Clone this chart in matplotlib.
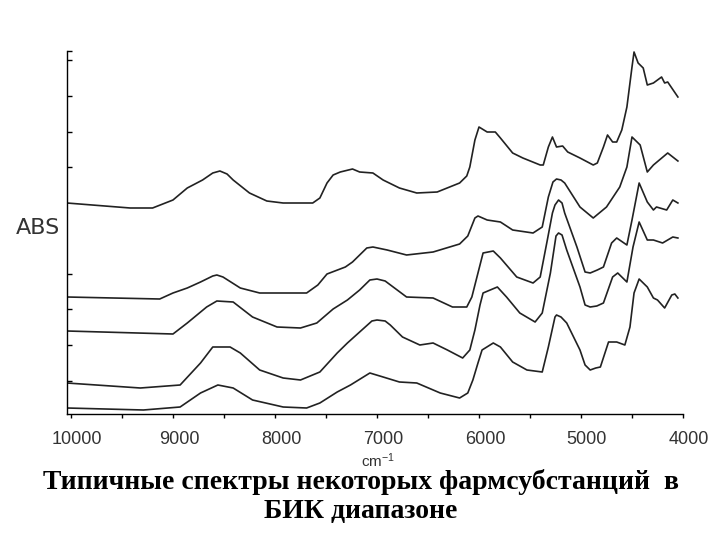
import numpy as np
import matplotlib
matplotlib.use("Agg")
import matplotlib.pyplot as plt
import matplotlib.transforms as mtransforms

# спектры, волновое число (см-1) и поглощение (усл. ед.), сверху вниз
wn1 = [10040, 9420, 9200, 9000, 8860, 8710, 8610, 8540, 8470, 8410, 8250, 8080, 7920, 7630, 7560,
       7490, 7430, 7360, 7240, 7170, 7040, 6940, 6780, 6610, 6410, 6190, 6120, 6090, 6040, 6000,
       5920, 5840, 5790, 5670, 5570, 5400, 5370, 5320, 5280, 5240, 5180, 5130, 5010, 4880, 4840,
       4780, 4740, 4690, 4650, 4600, 4550, 4500, 4480, 4440, 4390, 4350, 4290, 4210, 4180, 4150, 4050]
abs1 = [2.11, 2.06, 2.06, 2.14, 2.26, 2.34, 2.41, 2.43, 2.40, 2.34, 2.21, 2.13, 2.11, 2.11, 2.16,
        2.31, 2.39, 2.42, 2.45, 2.42, 2.41, 2.34, 2.26, 2.21, 2.22, 2.31, 2.38, 2.47, 2.74, 2.87,
        2.82, 2.82, 2.76, 2.61, 2.56, 2.49, 2.49, 2.67, 2.77, 2.67, 2.68, 2.62, 2.56, 2.49, 2.51,
        2.67, 2.79, 2.72, 2.72, 2.84, 3.07, 3.47, 3.62, 3.51, 3.46, 3.29, 3.31, 3.37, 3.31, 3.32, 3.17]

wn2 = [10040, 9130, 9000, 8860, 8730, 8610, 8570, 8510, 8340, 8150, 7690, 7580, 7490, 7310, 7240,
       7100, 7040, 6900, 6710, 6450, 6190, 6110, 6040, 6010, 5920, 5790, 5670, 5470, 5380, 5320,
       5275, 5240, 5196, 5160, 5010, 4880, 4750, 4620, 4550, 4500, 4470, 4420, 4350, 4290, 4150, 4050]
abs2 = [1.17, 1.15, 1.21, 1.26, 1.32, 1.38, 1.39, 1.37, 1.26, 1.21, 1.21, 1.29, 1.40, 1.47, 1.52,
        1.66, 1.67, 1.64, 1.59, 1.62, 1.70, 1.78, 1.96, 1.98, 1.94, 1.92, 1.84, 1.81, 1.87, 2.17,
        2.32, 2.35, 2.34, 2.31, 2.07, 1.96, 2.07, 2.27, 2.47, 2.77, 2.74, 2.69, 2.42, 2.49, 2.61, 2.53]

wn3 = [10040, 9000, 8860, 8670, 8570, 8410, 8220, 7980, 7750, 7590, 7430, 7290, 7170, 7070, 7000,
       6920, 6710, 6450, 6260, 6120, 6070, 6010, 5960, 5860, 5790, 5630, 5470, 5400, 5330, 5280,
       5255, 5220, 5186, 5160, 5040, 4960, 4910, 4840, 4780, 4700, 4650, 4550, 4500, 4430, 4350,
       4290, 4260, 4160, 4100, 4050]
abs3 = [0.83, 0.80, 0.91, 1.07, 1.13, 1.12, 0.97, 0.87, 0.86, 0.91, 1.05, 1.14, 1.24, 1.34, 1.35,
        1.33, 1.17, 1.16, 1.07, 1.07, 1.17, 1.41, 1.61, 1.63, 1.56, 1.37, 1.31, 1.37, 1.74, 2.01,
        2.09, 2.14, 2.11, 2.01, 1.67, 1.42, 1.41, 1.44, 1.47, 1.71, 1.76, 1.69, 1.94, 2.31, 2.12,
        2.04, 2.07, 2.04, 2.14, 2.11]

wn4 = [10040, 9320, 8930, 8730, 8610, 8440, 8340, 8150, 7920, 7750, 7560, 7390, 7290, 7170, 7050,
       7000, 6920, 6870, 6750, 6580, 6450, 6310, 6160, 6090, 6040, 5990, 5960, 5820, 5730, 5600,
       5450, 5380, 5300, 5245, 5220, 5186, 5140, 5010, 4960, 4910, 4845, 4780, 4690, 4640, 4550,
       4490, 4430, 4350, 4290, 4200, 4100, 4050]
abs4 = [0.31, 0.26, 0.29, 0.51, 0.67, 0.67, 0.61, 0.44, 0.36, 0.34, 0.42, 0.61, 0.71, 0.82, 0.93,
        0.94, 0.93, 0.89, 0.77, 0.69, 0.71, 0.64, 0.56, 0.64, 0.84, 1.09, 1.21, 1.27, 1.17, 1.01,
        0.92, 1.01, 1.41, 1.78, 1.81, 1.79, 1.64, 1.27, 1.09, 1.07, 1.08, 1.11, 1.37, 1.41, 1.32,
        1.67, 1.92, 1.74, 1.74, 1.71, 1.77, 1.76]

wn5 = [10040, 9290, 8930, 8730, 8560, 8410, 8220, 7920, 7690, 7560, 7390, 7260, 7070, 6940, 6780,
       6610, 6380, 6190, 6110, 6060, 6010, 5970, 5860, 5790, 5670, 5530, 5380, 5320, 5255, 5240,
       5196, 5140, 5010, 4960, 4910, 4855, 4810, 4730, 4650, 4570, 4520, 4480, 4430, 4350, 4290,
       4250, 4180, 4110, 4080, 4050]
abs5 = [0.06, 0.04, 0.07, 0.21, 0.29, 0.26, 0.14, 0.07, 0.06, 0.11, 0.22, 0.29, 0.41, 0.37, 0.32,
        0.31, 0.21, 0.16, 0.21, 0.34, 0.51, 0.64, 0.71, 0.67, 0.52, 0.44, 0.42, 0.67, 0.97, 0.99,
        0.97, 0.91, 0.64, 0.49, 0.44, 0.46, 0.47, 0.72, 0.72, 0.69, 0.87, 1.21, 1.35, 1.27, 1.16,
        1.14, 1.06, 1.19, 1.20, 1.16]

x_ticks = [10000, 9500, 9000, 8500, 8000, 7500, 7000, 6500, 6000, 5500, 5000, 4500, 4000]
x_labels = ['10000', '', '9000', '', '8000', '', '7000', '', '6000', '', '5000', '', '4000']
y_ticks = [0.33, 0.69, 1.05, 1.40, 2.47, 2.82, 3.18, 3.54, 3.63]

plt.rcParams['mathtext.default'] = 'regular'

fig = plt.figure(figsize=(7.2, 5.4), dpi=100)
ax = fig.add_axes([67/720, 126/540, 616/720, 363/540])

for wn, a in [(wn1, abs1), (wn2, abs2), (wn3, abs3), (wn4, abs4), (wn5, abs5)]:
    ax.plot(wn, a, color='#222222', lw=1.2, solid_joinstyle='round')

ax.set_xlim(10039, 4000)
ax.set_ylim(0, 3.63)

ax.spines['top'].set_visible(False)
ax.spines['right'].set_visible(False)
ax.spines['left'].set_linewidth(1.0)
ax.spines['bottom'].set_linewidth(1.0)

ax.set_xticks(x_ticks)
ax.set_xticklabels(x_labels, fontfamily='Liberation Sans', fontsize=13, color='#333333')
ax.tick_params(axis='x', direction='out', length=3, width=1.0, pad=9)
ax.set_yticks(y_ticks)
ax.set_yticklabels([])
ax.tick_params(axis='y', direction='in', length=3.6, width=1.0)

# подписи делений чуть сдвинуты вправо, как на оригинале
offset = mtransforms.ScaledTranslation(0.06, 0, fig.dpi_scale_trans)
for lab in ax.get_xticklabels():
    lab.set_transform(lab.get_transform() + offset)

fig.text(38/720, 1 - 228/540, 'ABS', ha='center', va='center',
         fontfamily='DejaVu Sans', fontsize=16, color='#333333')
fig.text(378/720, 1 - 461/540, 'cm$^{-1}$', ha='center', va='center',
         fontfamily='Liberation Sans', fontsize=11, color='#333333')

fig.text(361/720, 1 - 489/540, 'Типичные спектры некоторых фармсубстанций  в',
         ha='center', va='baseline', fontfamily='Liberation Serif', fontweight='bold',
         fontsize=20, color='black')
fig.text(361/720, 1 - 518/540, 'БИК диапазоне',
         ha='center', va='baseline', fontfamily='Liberation Serif', fontweight='bold',
         fontsize=20, color='black')

fig.savefig('out.png', dpi=100)
